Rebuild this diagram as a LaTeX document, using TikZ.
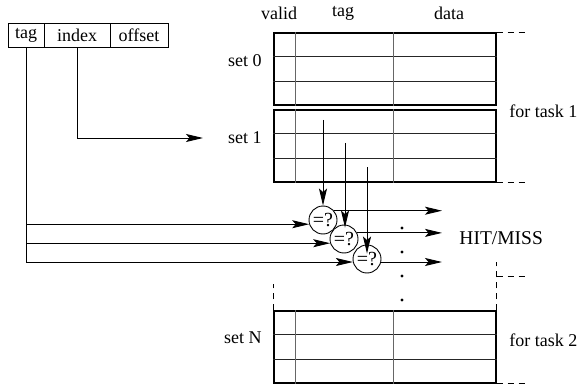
\documentclass[tikz,border=0pt]{standalone}
\usepackage{fontspec}
\setmainfont{Liberation Serif}
\usetikzlibrary{arrows.meta}

\begin{document}
\begin{tikzpicture}[x=1pt, y=-1pt, line width=0.9pt, font={\fontsize{18}{20}\selectfont}]
\newcommand{\rowh}{24pt}
\newcommand{\validw}{22pt}
\newcommand{\tagw}{120pt}
\newcommand{\setgrid}[1]{
  \draw[rowline] ([yshift=-\rowh]#1.north west) -- ([yshift=-\rowh]#1.north east);
  \draw[rowline] ([yshift=\rowh]#1.south west) -- ([yshift=\rowh]#1.south east);
  \draw[colline] ([xshift=\validw]#1.north west) -- ([xshift=\validw]#1.south west);
  \draw[colline] ([xshift=\tagw]#1.north west) -- ([xshift=\tagw]#1.south west);
}

\tikzset{ field/.style={draw, minimum height=24pt, inner sep=0pt},
  cacheset/.style={draw, line width=1.4pt, minimum width=222pt, minimum height=72pt, inner sep=0pt},
  rowline/.style={black!85, line width=0.9pt},
  colline/.style={black!60, line width=0.9pt},
  cmp/.style={draw, circle, minimum size=28pt, inner sep=0pt, font={\fontsize{20}{22}\selectfont}},
  arr/.style={-{Stealth[length=17pt, width=8pt, inset=3.5pt]}},
  guide/.style={dash pattern=on 6pt off 5pt, line width=0.8pt}
}

\useasboundingbox (0,0) rectangle (578,385);

\node[field, minimum width=36pt] (tagf) at (26,35) {tag};
\node[field, minimum width=66pt] (indexf) at (77,35) {index};
\node[field, minimum width=58pt] (offsetf) at (139,35) {offset};

\node (hvalid) at (279,13) {valid};
\node (htag) at (343,13) {tag};
\node (hdata) at (449,13) {data};

\node[cacheset] (set0) at (385,69) {};
\node[cacheset] (set1) at (385,146) {};
\node[cacheset] (setN) at (385,347) {};
\setgrid{set0}
\setgrid{set1}
\setgrid{setN}

\node[anchor=east, inner sep=0pt] (lset0) at (262,61) {set 0};
\node[anchor=east, inner sep=0pt] (lset1) at (262,138) {set 1};
\node[anchor=east, inner sep=0pt] (lsetN) at (262,338) {set N};
\node[anchor=west, inner sep=0pt] (task1) at (509,111) {for task 1};
\node[anchor=west, inner sep=0pt] (task2) at (509,340) {for task 2};
\node[anchor=west, inner sep=0pt, font={\fontsize{19.5}{22}\selectfont}] (hitmiss) at (459,238) {HIT/MISS};

\draw[guide] (set0.north east) -- ++(31,0);
\draw[guide] (set1.south east) -- ++(31,0);
\draw[guide] ([yshift=34pt]setN.north east) -- ++(31,0);
\draw[guide] (setN.south east) -- ++(31,0);
\draw[guide] (setN.north west) -- ++(0,-26);
\draw[guide] (setN.north east) -- ++(0,-48);

\coordinate (idxend) at (203,138);
\draw[arr] (indexf.south) |- (idxend);

\node[cmp] (cmp1) at (323,220) {=?};
\node[cmp] (cmp2) at (344,239) {=?};
\node[cmp] (cmp3) at (367,259) {=?};

\coordinate (t1) at (323,120);
\coordinate (t2) at (345,143);
\coordinate (t3) at (367,167);
\draw[arr] (t1) -- (cmp1.north);
\draw[arr] (t2) -- ([yshift=-3pt]t2 |- cmp2.north);
\draw[arr] (t3) -- ([yshift=-9pt]cmp3.north);

\draw[arr] (tagf.south) |- (cmp3.192);
\draw[arr] (tagf.south |- cmp1.197) -- (cmp1.197);
\draw[arr] (tagf.south |- cmp2.197) -- (cmp2.197);

\coordinate (hitx) at (442,236);
\draw[arr] (cmp1.40) -- (cmp1.40 -| hitx);
\draw[arr] (cmp2.25) -- (cmp2.25 -| hitx);
\draw[arr] (cmp3.348) -- (cmp3.348 -| hitx);

\foreach \y in {228,252,276,300}
  \fill (402,\y) circle (1.6pt);

\end{tikzpicture}
\end{document}
